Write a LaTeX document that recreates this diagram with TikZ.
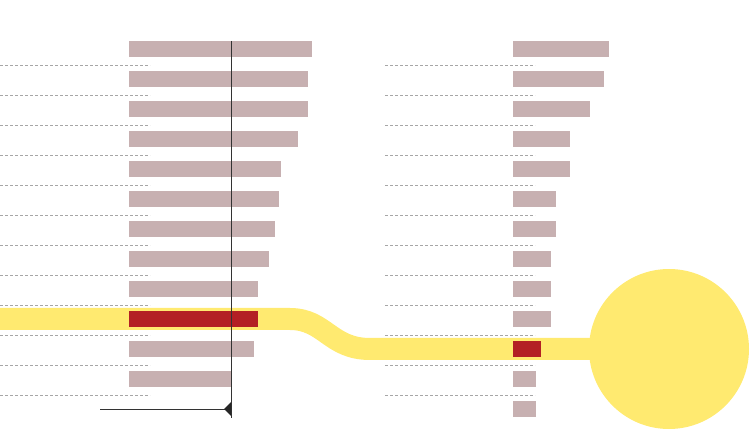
\documentclass[tikz,border=0pt]{standalone}
\begin{document}
\begin{tikzpicture}[x=1pt,y=-1pt,
  bar/.style={fill=barc,draw=none},
  hot/.style={fill=hotc,draw=none},
  grid/.style={draw=gray!70,densely dashed,line width=0.4pt},
  band/.style={draw=yel,line width=22pt}]
\definecolor{barc}{HTML}{C7B0B1}
\definecolor{hotc}{HTML}{B32024}
\definecolor{yel}{HTML}{FFEA70}
\useasboundingbox (0,0) rectangle (750,430);
\coordinate (b0) at (0,319);
\coordinate (b1) at (290,319);
\coordinate (b2) at (370,349);
\coordinate (b3) at (620,349);
\draw[band] (b0) -- (b1) .. controls (325,319) and (330,349) .. (b2) -- (b3);
\node[circle,fill=yel,minimum size=160pt,inner sep=0] (c) at (669,349) {};
\foreach \i in {0,...,11}{
  \draw[grid] (0,65+30*\i) -- (150,65+30*\i);
  \draw[grid] (385,65+30*\i) -- (535,65+30*\i);
}
\foreach \e [count=\i from 0] in {312,308,308,298,281,279,275,269,258,258,254,231}{
  \ifnum\i=9 \fill[hotc] (129,311+0) rectangle (\e,327);
  \else \fill[barc] (129,41+30*\i) rectangle (\e,57+30*\i); \fi
}
\foreach \e [count=\i from 0] in {609,604,590,570,570,556,556,551,551,551,541,536,536}{
  \ifnum\i=10 \fill[hotc] (513,341) rectangle (\e,357);
  \else \fill[barc] (513,41+30*\i) rectangle (\e,57+30*\i); \fi
}
\coordinate (vt) at (231,41);
\coordinate (vb) at (231,418);
\coordinate (hl) at (100,409);
\coordinate (hr) at (231,409);
\draw[line width=0.8pt,black!80] (vt) -- (vb);
\draw[line width=0.8pt,black!80] (hl) -- (hr);
\fill[black!85] (224,409) -- (231,402) -- (231,416) -- cycle;
\end{tikzpicture}
\end{document}
